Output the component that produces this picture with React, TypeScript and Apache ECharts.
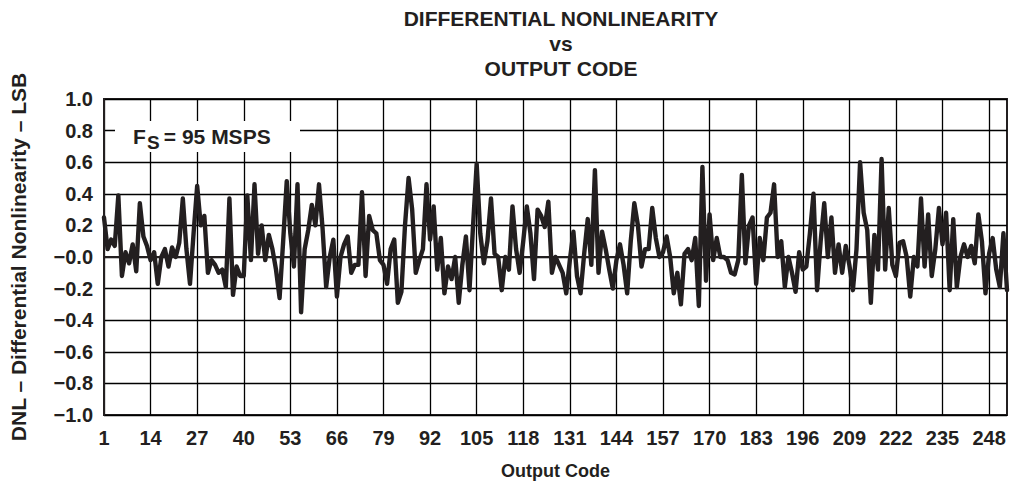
import React, { useEffect, useRef } from "react";
import * as echarts from "echarts";

// Output codes 1..253 (category axis)
const codes: string[] = Array.from({ length: 253 }, (_, i) => String(i + 1));

// DNL values (LSB), code 1 .. 253
const dnl: number[] = [
  0.25, 0.05, 0.11, 0.07, 0.39, -0.12, 0.03, -0.04, 0.08, -0.09,
  0.34, 0.13, 0.07, -0.02, 0.03, -0.17, 0.0, 0.05, -0.06, 0.06,
  0.0, 0.09, 0.37, 0.05, -0.17, 0.15, 0.45, 0.2, 0.26, -0.1,
  -0.02, -0.05, -0.1, -0.08, -0.19, 0.37, -0.24, -0.06, -0.12, -0.12,
  0.39, -0.02, 0.46, 0.02, 0.2, -0.02, 0.14, 0.05, -0.08, -0.26,
  0.1, 0.48, 0.15, -0.06, 0.46, -0.35, 0.05, 0.17, 0.33, 0.2,
  0.46, 0.18, -0.19, 0.0, 0.11, -0.25, 0.0, 0.08, 0.13, -0.1,
  -0.05, -0.05, 0.41, -0.12, 0.26, 0.17, 0.15, -0.02, -0.05, -0.17,
  0.05, 0.11, -0.29, -0.22, 0.2, 0.5, 0.3, -0.1, -0.02, 0.05,
  0.46, 0.11, 0.32, -0.08, 0.12, -0.23, -0.06, -0.14, 0.0, -0.29,
  -0.05, 0.13, -0.21, 0.2, 0.59, 0.15, -0.04, 0.1, 0.37, 0.02,
  0.0, -0.21, 0.0, -0.08, 0.32, 0.05, -0.1, 0.1, 0.32, 0.15,
  -0.14, 0.3, 0.26, 0.19, 0.35, -0.1, 0.0, -0.05, -0.1, -0.23,
  -0.02, 0.16, -0.12, -0.23, 0.02, 0.24, -0.05, 0.55, -0.1, 0.16,
  0.05, -0.08, -0.2, -0.02, 0.08, -0.05, -0.23, 0.1, 0.34, 0.2,
  -0.06, 0.05, 0.05, 0.31, 0.12, 0.0, 0.03, 0.13, 0.0, -0.23,
  -0.1, -0.3, 0.02, 0.05, -0.02, 0.12, -0.31, 0.57, -0.15, 0.27,
  -0.02, 0.12, 0.0, 0.0, -0.02, -0.1, -0.11, -0.02, 0.52, -0.04,
  0.2, 0.25, -0.17, 0.12, -0.02, 0.25, 0.28, 0.46, 0.0, 0.1,
  -0.19, 0.0, -0.1, -0.22, 0.03, -0.08, -0.06, 0.15, 0.4, -0.21,
  0.1, 0.34, 0.0, 0.25, -0.1, 0.08, -0.1, 0.07, -0.05, -0.21,
  0.05, 0.6, 0.28, 0.17, -0.29, 0.14, -0.08, 0.62, -0.08, 0.31,
  -0.05, -0.12, 0.09, 0.1, 0.0, -0.25, 0.0, -0.06, 0.37, -0.06,
  0.27, -0.12, 0.05, 0.31, 0.08, 0.28, -0.21, 0.24, -0.19, 0.0,
  0.08, 0.0, 0.07, -0.04, 0.27, 0.1, -0.23, 0.02, 0.12, -0.08,
  -0.19, 0.15, -0.21,
];

const titleLines: string[] = ["DIFFERENTIAL NONLINEARITY", "vs", "OUTPUT CODE"];
const yAxisName = "DNL – Differential Nonlinearity – LSB";
const xAxisName = "Output Code";
const yMin = -1.0;
const yMax = 1.0;
const yStep = 0.2;
const xLabelEvery = 13;
const noteMain = "F";
const noteSub = "S";
const noteRest = " = 95 MSPS";

const FONT = "'Liberation Sans', Arial, Helvetica, sans-serif";
const INK = "#231f20";

function fmtY(v: number): string {
  if (Math.abs(v) < 1e-9) return "\u22120.0";
  return v < 0 ? "\u2212" + Math.abs(v).toFixed(1) : v.toFixed(1);
}

export default function App() {
  const ref = useRef<HTMLDivElement>(null);
  useEffect(() => {
    if (!ref.current) return;
    const chart = echarts.init(ref.current, null, { renderer: "svg" });
    chart.setOption({
      animation: false,
      backgroundColor: "#ffffff",
      title: {
        text: titleLines.join("\n"),
        left: 556,
        top: 1,
        textAlign: "center",
        textStyle: {
          fontFamily: FONT,
          fontWeight: "bold",
          fontSize: 21,
          lineHeight: 25,
          color: INK,
        },
      },
      grid: {
        left: 104,
        top: 99,
        width: 903,
        height: 316,
        show: true,
        borderColor: INK,
        borderWidth: 2,
        backgroundColor: "transparent",
      },
      xAxis: {
        type: "category",
        data: codes,
        boundaryGap: false,
        name: xAxisName,
        nameLocation: "middle",
        nameGap: 47,
        nameTextStyle: {
          fontFamily: FONT,
          fontWeight: "bold",
          fontSize: 18,
          color: INK,
        },
        axisLine: { show: true, lineStyle: { color: INK, width: 2 } },
        axisTick: { show: false },
        axisLabel: {
          interval: xLabelEvery - 1,
          margin: 13,
          fontFamily: FONT,
          fontWeight: "bold",
          fontSize: 20,
          color: INK,
        },
        splitLine: {
          show: true,
          interval: xLabelEvery - 1,
          lineStyle: { color: "#000", width: 1.3 },
        },
      },
      yAxis: {
        type: "value",
        min: yMin,
        max: yMax,
        interval: yStep,
        name: yAxisName,
        nameLocation: "middle",
        nameRotate: 90,
        nameGap: 75,
        nameTextStyle: {
          fontFamily: FONT,
          fontWeight: "bold",
          fontSize: 21,
          color: INK,
        },
        axisLine: { show: true, lineStyle: { color: INK, width: 2 } },
        axisTick: { show: false },
        axisLabel: {
          margin: 11,
          formatter: fmtY,
          fontFamily: FONT,
          fontWeight: "bold",
          fontSize: 20,
          color: INK,
        },
        splitLine: { show: true, lineStyle: { color: "#000", width: 1.3 } },
      },
      graphic: [
        {
          type: "rect",
          z: 100,
          shape: { x: 115, y: 121, width: 185, height: 31 },
          style: { fill: "#ffffff" },
        },
        {
          type: "text",
          z: 101,
          x: 133,
          y: 126,
          style: {
            text: noteMain,
            fontFamily: FONT,
            fontWeight: "bold",
            fontSize: 21,
            fill: INK,
          },
        },
        {
          type: "text",
          z: 101,
          x: 147,
          y: 133,
          style: {
            text: noteSub,
            fontFamily: FONT,
            fontWeight: "bold",
            fontSize: 19,
            fill: INK,
          },
        },
        {
          type: "text",
          z: 101,
          x: 158,
          y: 126,
          style: {
            text: noteRest,
            fontFamily: FONT,
            fontWeight: "bold",
            fontSize: 21,
            fill: INK,
          },
        },
      ],
      series: [
        {
          type: "line",
          data: dnl,
          symbol: "none",
          smooth: false,
          z: 5,
          lineStyle: { color: INK, width: 4.4, join: "round", cap: "round" },
        },
      ],
    });
    return () => chart.dispose();
  }, []);
  return (
    <div
      ref={ref}
      style={{
        position: "absolute",
        left: 0,
        top: 0,
        width: 1011,
        height: 496,
        background: "#fff",
      }}
    />
  );
}
